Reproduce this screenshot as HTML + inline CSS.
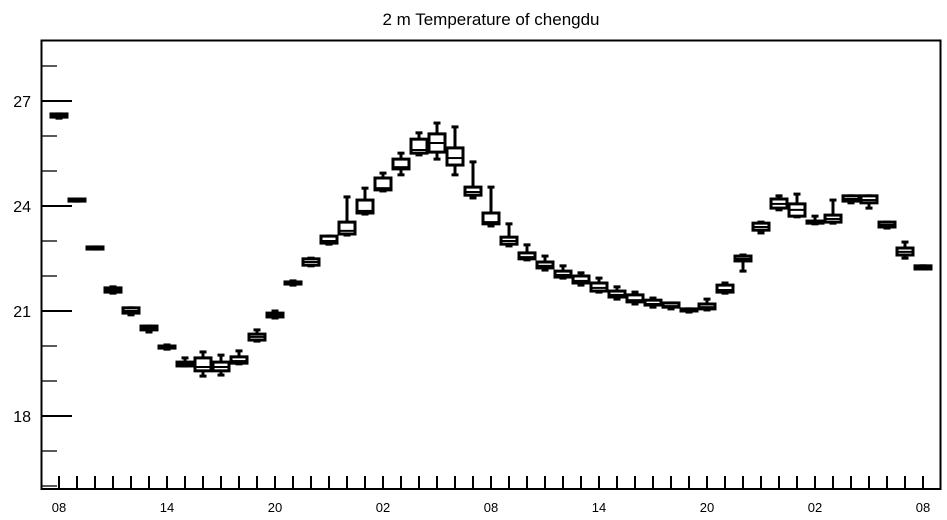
<!DOCTYPE html>
<html><head><meta charset="utf-8"><style>
html,body{margin:0;padding:0;background:#fff;}
svg{display:block;font-family:"Liberation Sans",sans-serif;}
</style></head><body>
<svg id="chart" width="947" height="520" viewBox="0 0 947 520">
<text x="491" y="25" text-anchor="middle" font-size="17">2 m Temperature of chengdu</text>
<rect x="41.5" y="40.5" width="899" height="448.5" fill="none" stroke="#000" stroke-width="2"/>
<g id="axes"></g><g id="boxes"></g>
</svg>
<script>
const hourLabels=["08","14","20","02","08","14","20","02","08"];
const yTicks=[18,21,24,27];
const mins=[26.51,24.14,22.77,21.51,20.89,20.40,19.91,19.43,19.14,19.17,19.49,20.14,20.80,21.74,22.29,22.91,23.17,23.77,24.43,24.89,25.46,25.34,24.89,24.23,23.43,22.86,22.46,22.17,21.94,21.74,21.54,21.34,21.20,21.11,21.06,20.97,21.03,21.51,22.14,23.23,23.89,23.69,23.49,23.51,24.09,23.94,23.37,22.51,22.20];
const q1s=[26.54,24.14,22.77,21.54,20.94,20.46,19.94,19.43,19.29,19.29,19.51,20.17,20.83,21.77,22.31,22.94,23.20,23.80,24.46,25.06,25.51,25.54,25.17,24.31,23.49,22.91,22.49,22.23,21.97,21.80,21.57,21.40,21.26,21.17,21.11,21.00,21.06,21.54,22.43,23.31,23.94,23.71,23.51,23.54,24.14,24.09,23.40,22.60,22.20];
const medians=[26.57,24.17,22.80,21.60,21.00,20.51,19.97,19.49,19.40,19.40,19.57,20.26,20.89,21.80,22.40,23.00,23.29,23.86,24.51,25.11,25.60,25.80,25.37,24.40,23.54,23.00,22.54,22.29,22.03,21.86,21.66,21.46,21.31,21.20,21.14,21.03,21.11,21.60,22.49,23.40,24.06,23.89,23.54,23.63,24.20,24.17,23.46,22.69,22.26];
const q3s=[26.63,24.20,22.83,21.66,21.09,20.57,20.00,19.54,19.66,19.54,19.69,20.34,20.94,21.83,22.49,23.14,23.54,24.17,24.80,25.34,25.91,26.06,25.66,24.54,23.80,23.11,22.66,22.40,22.14,22.00,21.80,21.57,21.46,21.31,21.23,21.06,21.20,21.74,22.57,23.51,24.20,24.06,23.57,23.74,24.29,24.29,23.54,22.80,22.29];
const maxs=[26.63,24.20,22.83,21.69,21.09,20.57,20.03,19.66,19.83,19.74,19.86,20.46,21.00,21.86,22.51,23.14,24.26,24.51,24.94,25.51,26.09,26.37,26.26,25.26,24.54,23.49,22.89,22.57,22.29,22.09,21.94,21.69,21.54,21.37,21.23,21.06,21.34,21.80,22.60,23.54,24.29,24.34,23.71,24.17,24.29,24.29,23.54,22.97,22.29];
const NS="http://www.w3.org/2000/svg";
const X0=59, DX=18, Y27=101, PX=35;
const xs=i=>X0+i*DX;
const ys=v=>Y27-(v-27)*PX;
function mk(parent,tag,attrs){const e=document.createElementNS(NS,tag);for(const k in attrs)e.setAttribute(k,attrs[k]);parent.appendChild(e);return e;}
const axes=document.getElementById('axes'), boxes=document.getElementById('boxes');
for(let v=16;v<=28;v++){
  const l=mk(axes,'line',{x1:42,x2:yTicks.includes(v)?72:57,y1:ys(v),y2:ys(v),stroke:'#000','stroke-width':yTicks.includes(v)?2:1.3});
  
  
}
yTicks.forEach(v=>{
  const t=mk(axes,'text',{x:31,y:ys(v)+6,'text-anchor':'end','font-size':16});
  t.textContent=v;
  
  
});
for(let i=0;i<mins.length;i++){
  const l=mk(axes,'line',{x1:xs(i),x2:xs(i),y1:476,y2:489,stroke:'#000','stroke-width':2});
  
  
}
hourLabels.forEach((s,k)=>{
  const t=mk(axes,'text',{x:xs(k*6),y:512,'text-anchor':'middle','font-size':13});
  t.textContent=s;
  
  
});
for(let i=0;i<mins.length;i++){
  const g=mk(boxes,'g',{stroke:'#000','stroke-width':3,fill:'none'});
  
  
  const x=xs(i);
  mk(g,'line',{x1:x,x2:x,y1:ys(maxs[i]),y2:ys(q3s[i])});
  mk(g,'line',{x1:x,x2:x,y1:ys(q1s[i]),y2:ys(mins[i])});
  mk(g,'line',{x1:x-3.5,x2:x+3.5,y1:ys(maxs[i]),y2:ys(maxs[i])});
  mk(g,'line',{x1:x-3.5,x2:x+3.5,y1:ys(mins[i]),y2:ys(mins[i])});
  const top=ys(q3s[i]),h=Math.max(ys(q1s[i])-top,1);
  mk(g,'rect',{x:x-8,y:top,width:16,height:h,fill:'#fff'});
  mk(g,'line',{x1:x-8,x2:x+8,y1:ys(medians[i]),y2:ys(medians[i]),'stroke-width':2});
}
</script>
</body></html>
